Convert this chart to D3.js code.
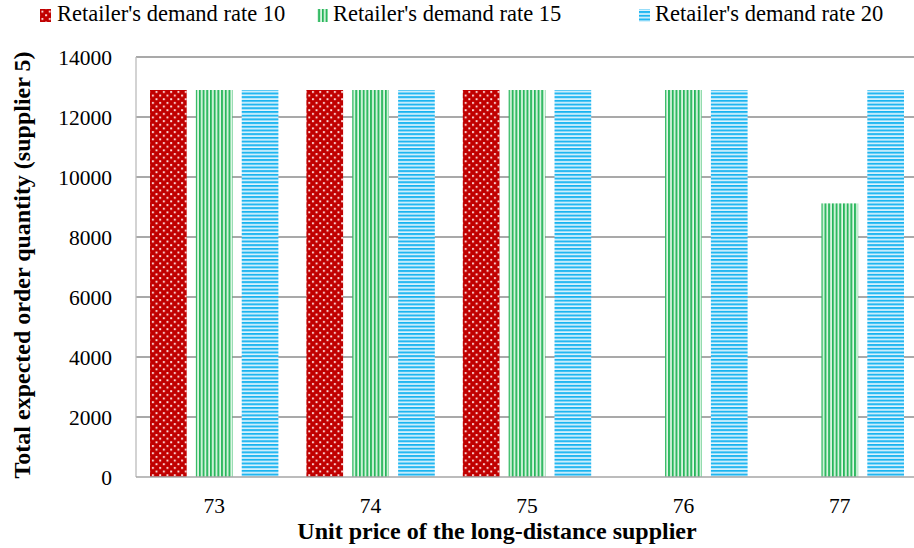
<!DOCTYPE html>
<html>
<head>
<meta charset="utf-8">
<script src="https://cdn.jsdelivr.net/npm/d3@7"></script>
<style>
  html, body { margin: 0; padding: 0; background: #fff; }
  svg { display: block; }
  text { font-family: "Liberation Serif", "Times New Roman", serif; fill: #000; }
</style>
</head>
<body>
<svg id="chart" width="914" height="548"></svg>
<script>
// Unit prices of the long-distance supplier (x categories)
const categories = ["73", "74", "75", "76", "77"];
// Series names
const seriesNames = ["Retailer's demand rate 10", "Retailer's demand rate 15", "Retailer's demand rate 20"];
// Total expected order quantity (supplier 5), one array per series; null = no bar
const rate10 = [12900, 12900, 12900, null, null];
const rate15 = [12900, 12900, 12900, 12900, 9120];
const rate20 = [12900, 12900, 12900, 12900, 12900];
const yTicks = [0, 2000, 4000, 6000, 8000, 10000, 12000, 14000];

const seriesValues = [rate10, rate15, rate20];
const patternIds = ["pat-dots", "pat-vert", "pat-horz"];

const svg = d3.select("#chart");
const margin = { left: 136, right: 918, top: 57, bottom: 477 };

// Fill patterns
const defs = svg.append("defs");
const dots = defs.append("pattern").attr("id", "pat-dots")
  .attr("patternUnits", "userSpaceOnUse").attr("width", 7.3).attr("height", 7.3)
  .attr("x", 150).attr("y", 90);
dots.append("rect").attr("width", 7.3).attr("height", 7.3).attr("fill", "#c00000");
dots.append("rect").attr("x", 1.0).attr("y", 1.0).attr("width", 1.9).attr("height", 1.9).attr("fill", "#ffe4e4");
dots.append("rect").attr("x", 4.65).attr("y", 4.65).attr("width", 1.9).attr("height", 1.9).attr("fill", "#ffe4e4");

const vert = defs.append("pattern").attr("id", "pat-vert")
  .attr("patternUnits", "userSpaceOnUse").attr("width", 3.7).attr("height", 10).attr("x", 0);
vert.append("rect").attr("width", 3.7).attr("height", 10).attr("fill", "#b0eac2");
vert.append("rect").attr("x", 0).attr("width", 1.7).attr("height", 10).attr("fill", "#22b457");
vert.append("rect").attr("x", 2.6).attr("width", 0.8).attr("height", 10).attr("fill", "#ffffff");

const horz = defs.append("pattern").attr("id", "pat-horz")
  .attr("patternUnits", "userSpaceOnUse").attr("width", 10).attr("height", 3.7).attr("y", 0);
horz.append("rect").attr("width", 10).attr("height", 3.7).attr("fill", "#a6e2fb");
horz.append("rect").attr("y", 0).attr("width", 10).attr("height", 1.7).attr("fill", "#15b3f0");
horz.append("rect").attr("y", 2.6).attr("width", 10).attr("height", 0.8).attr("fill", "#ffffff");

// Scales
const x0 = d3.scaleBand().domain(categories).range([margin.left, margin.right]);
const x1 = d3.scaleBand().domain(d3.range(seriesNames.length))
  .range([14, x0.bandwidth() - 14]).paddingInner(0.2);
const y = d3.scaleLinear().domain([0, 14000]).range([margin.bottom, margin.top]);

// Gridlines
svg.append("g").selectAll("line").data(yTicks.filter(d => d > 0)).join("line")
  .attr("x1", margin.left).attr("x2", 914)
  .attr("y1", d => y(d)).attr("y2", d => y(d))
  .attr("stroke", "#8c8c8c").attr("stroke-width", 1.3);

// Left frame line
svg.append("line").attr("x1", margin.left).attr("x2", margin.left)
  .attr("y1", margin.top).attr("y2", margin.bottom)
  .attr("stroke", "#bcbcbc").attr("stroke-width", 1.3);

// Bars
const groups = svg.append("g").selectAll("g").data(categories).join("g")
  .attr("transform", c => `translate(${x0(c)},0)`);
groups.selectAll("rect")
  .data((c, i) => seriesValues.map((vals, s) => ({ s, v: vals[i] })).filter(d => d.v != null))
  .join("rect")
  .attr("x", d => x1(d.s))
  .attr("width", x1.bandwidth())
  .attr("y", d => y(d.v))
  .attr("height", d => y(0) - y(d.v))
  .attr("fill", d => `url(#${patternIds[d.s]})`);

// X axis baseline
svg.append("line").attr("x1", margin.left).attr("x2", 914)
  .attr("y1", y(0)).attr("y2", y(0))
  .attr("stroke", "#a6a6a6").attr("stroke-width", 1.5);

// Y tick labels
const yAxis = d3.axisLeft(y).tickValues(yTicks).tickSize(0).tickPadding(0).tickFormat(d3.format("d"));
const yg = svg.append("g").attr("transform", "translate(112,0)").call(yAxis);
yg.select(".domain").remove();
yg.selectAll("text").attr("font-size", 21.5).attr("font-family", "Liberation Serif").attr("dy", "0.34em");

// X tick labels
const xAxis = d3.axisBottom(x0).tickSize(0).tickPadding(0);
const xg = svg.append("g").attr("transform", `translate(0,${y(0)})`).call(xAxis);
xg.select(".domain").remove();
xg.selectAll("text").attr("font-size", 21.5).attr("font-family", "Liberation Serif")
  .attr("dy", null).attr("y", 36);

// Axis titles
svg.append("text").attr("x", 497).attr("y", 539).attr("text-anchor", "middle")
  .attr("font-size", 24).attr("font-weight", "bold")
  .text("Unit price of the long-distance supplier");
svg.append("text").attr("transform", "translate(30,265) rotate(-90)").attr("text-anchor", "middle")
  .attr("font-size", 24).attr("font-weight", "bold")
  .text("Total expected order quantity (supplier 5)");

// Legend
const markerX = [40, 317, 639];
const textX = [57, 333, 655];
const legend = svg.append("g").selectAll("g").data(seriesNames).join("g");
legend.append("rect").attr("x", (d, i) => markerX[i]).attr("y", 9).attr("width", 11).attr("height", 13)
  .attr("fill", (d, i) => `url(#${patternIds[i]})`);
legend.append("text").attr("x", (d, i) => textX[i]).attr("y", 21).attr("font-size", 22.5).text(d => d);
</script>
</body>
</html>
